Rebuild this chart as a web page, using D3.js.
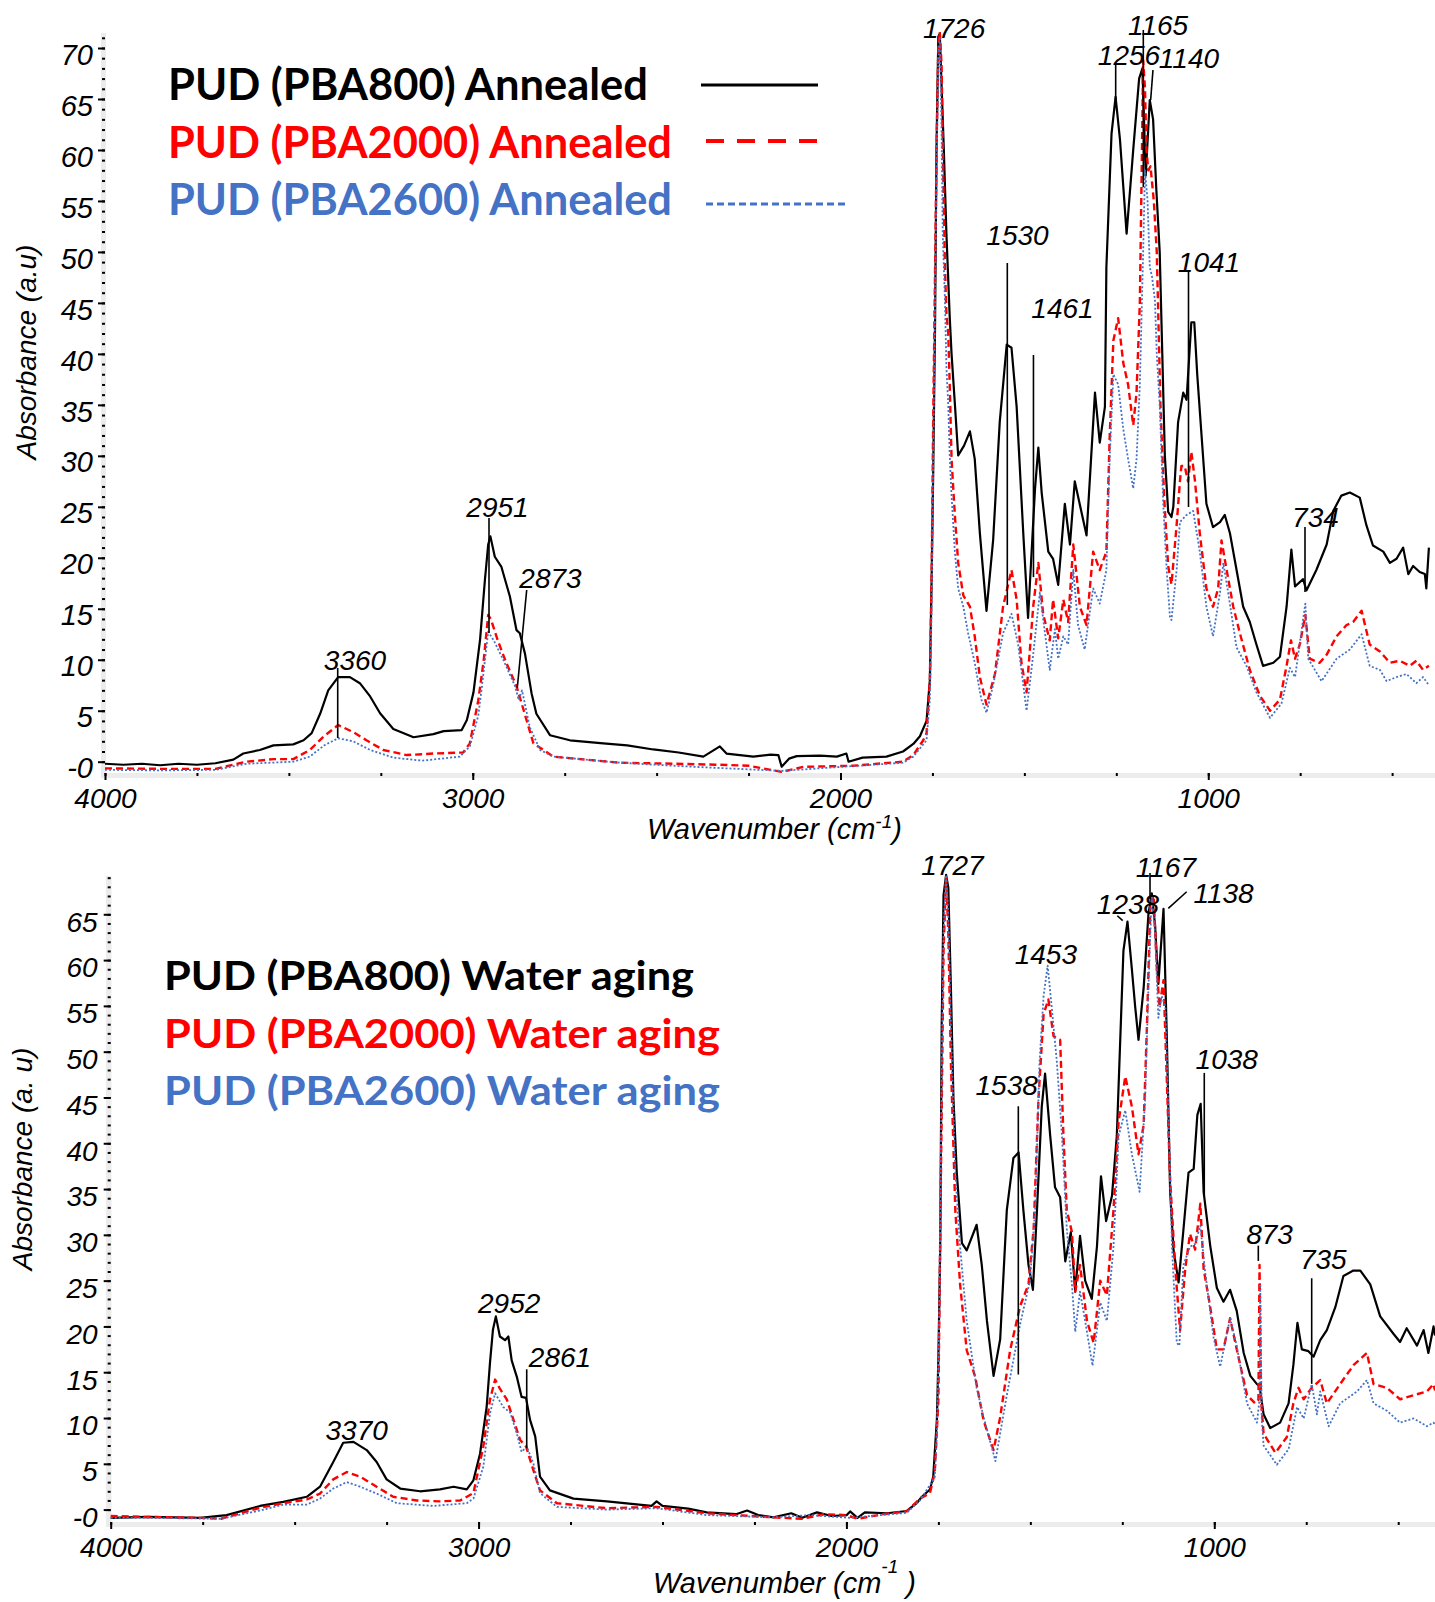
<!DOCTYPE html>
<html><head><meta charset="utf-8">
<script src="https://cdn.jsdelivr.net/npm/d3@7"></script>
<style>
body{margin:0;background:#fff;}
svg{display:block;}
</style></head><body>
<svg id="chart" width="1435" height="1602"></svg>
<script>
// ---------------- DATA ----------------
const majorWavenumbers = [4000, 3000, 2000, 1000];
const minorWavenumbers = d3.range(4000, 390, -250);
const absTicksTop = [0,5,10,15,20,25,30,35,40,45,50,55,60,65,70];
const absTicksBottom = [0,5,10,15,20,25,30,35,40,45,50,55,60,65];

const legendTop = ["PUD (PBA800) Annealed", "PUD (PBA2000) Annealed", "PUD (PBA2600) Annealed"];
const legendBottom = ["PUD (PBA800) Water aging", "PUD (PBA2000) Water aging", "PUD (PBA2600) Water aging"];

// [wavenumber cm-1, absorbance]
const topBlack = [[4000,-0.2],[3950,-0.3],[3900,-0.2],[3850,-0.35],[3800,-0.2],[3750,-0.3],[3700,-0.15],[3651,0.2],[3624,0.8],[3579,1.15],[3542,1.6],[3488,1.7],[3460,2.1],[3438,2.8],[3415,4.7],[3393,7.0],[3366,8.3],[3334,8.3],[3307,7.7],[3279,6.4],[3252,4.75],[3216,3.2],[3161,2.4],[3107,2.7],[3079,3.0],[3030,3.1],[3016,4.1],[2998,6.8],[2980,12.0],[2967,17.8],[2958,21.3],[2952,22.1],[2940,20.1],[2922,19.1],[2899,16.2],[2881,12.9],[2872,12.6],[2858,10.6],[2840,6.7],[2827,4.7],[2790,2.6],[2736,2.1],[2645,1.8],[2580,1.6],[2509,1.2],[2440,0.9],[2373,0.5],[2328,1.5],[2310,0.8],[2237,0.5],[2190,0.7],[2169,0.65],[2160,-0.5],[2140,0.3],[2119,0.55],[2056,0.6],[2010,0.5],[1984,0.8],[1978,0],[1940,0.4],[1875,0.5],[1830,1.0],[1802,1.74],[1784,2.5],[1766,4.0],[1757,8],[1752,18.4],[1748,28.2],[1743,42.4],[1739,60],[1734,71.1],[1730,71.4],[1725,66.2],[1719,60],[1712,51.8],[1703,43.6],[1698,40],[1689,35.1],[1680,30.05],[1664,31],[1648,32.4],[1635,29.7],[1621,22.4],[1603,14.8],[1585,21.7],[1567,33.3],[1548,40.9],[1535,40.6],[1521,34.8],[1503,22.4],[1490,14.1],[1471,26.8],[1462,30.8],[1453,26.4],[1435,20.6],[1422,19.9],[1408,17.35],[1390,25.3],[1376,21.3],[1363,27.5],[1331,22.2],[1308,36.2],[1295,31.3],[1281,34.8],[1277,48.5],[1263,61.6],[1252,65.2],[1240,61],[1231,56.4],[1222,51.8],[1204,60],[1188,67],[1179,68],[1170,57.5],[1159,64.9],[1150,63],[1141,56],[1132,50],[1125,40],[1118,30],[1109,24.5],[1100,24],[1095,25],[1082,33.3],[1068,36.2],[1059,35.5],[1046,43.1],[1038,43.1],[1030,38],[1018,31.9],[1005,25.3],[987,23],[968,23.5],[955,24.2],[941,22.4],[923,18.8],[905,15.2],[887,13.7],[869,11.5],[851,9.4],[823,9.7],[805,10.3],[787,15.2],[774,20.8],[764,17.2],[742,17.9],[733,16.8],[706,18.8],[678,21.3],[660,24.6],[638,26.1],[615,26.4],[588,25.9],[570,23.2],[552,21.2],[524,20.6],[506,19.5],[488,19.9],[470,21],[456,18.4],[443,19.2],[425,18.6],[411,18.4],[407,17],[400,21]];

const topRed = [[4000,-0.65],[3850,-0.7],[3700,-0.7],[3615,0],[3542,0.25],[3488,0.25],[3443,1.15],[3406,2.45],[3366,3.6],[3325,2.9],[3289,2.1],[3243,1.15],[3180,0.65],[3107,0.8],[3026,0.9],[3008,1.8],[2985,6.0],[2970,10],[2958,14.4],[2950,13.9],[2932,11.9],[2910,9.8],[2881,7.4],[2862,5.1],[2835,1.8],[2781,0.5],[2600,-0.1],[2450,-0.2],[2328,-0.3],[2250,-0.4],[2160,-1.0],[2100,-0.5],[1966,-0.4],[1830,0],[1802,0.65],[1775,2.1],[1766,2.8],[1757,7.9],[1752,18.8],[1748,33.3],[1743,47.8],[1738,62],[1734,70],[1730,71.6],[1725,68.2],[1721,58.4],[1716,48.5],[1712,44],[1707,42],[1703,37],[1698,29.7],[1694,27.2],[1689,24.2],[1680,19.5],[1666,16.3],[1648,15.2],[1635,12.3],[1621,8.3],[1603,5.6],[1580,8.6],[1558,15.2],[1535,18.8],[1521,15.9],[1508,9.7],[1494,6.8],[1476,15.2],[1462,19.5],[1449,14.5],[1431,11.9],[1422,15.9],[1408,12.1],[1394,15.9],[1381,13.7],[1367,21.3],[1349,15.2],[1331,13.4],[1313,20.6],[1295,18.8],[1277,20.6],[1268,31.9],[1258,41.3],[1245,43.5],[1231,39.1],[1218,37],[1204,33],[1195,36.2],[1186,45],[1181,58],[1177,68.8],[1172,66],[1168,60],[1163,58],[1157,58.4],[1148,55],[1140,50],[1130,35],[1120,26],[1109,19.2],[1100,17.4],[1086,23.2],[1077,27.5],[1073,29],[1064,29],[1055,27.5],[1046,30.4],[1036,27.5],[1023,22.4],[1005,17],[987,15.2],[973,17],[964,21.7],[950,18.8],[932,15.2],[914,12.6],[887,9],[860,6.5],[832,5],[805,6.1],[787,9.4],[775,11.9],[764,10.1],[751,11.5],[736,14.4],[724,10.1],[697,9.7],[678,10.5],[651,12.3],[624,13.4],[606,13.7],[583,14.8],[561,11.5],[533,10.8],[506,9.7],[479,9.9],[452,9.4],[434,9.9],[416,9],[400,9.4]];

const topBlue = [[4000,-0.8],[3850,-0.85],[3700,-0.8],[3615,-0.2],[3488,0],[3443,0.5],[3404,1.6],[3366,2.3],[3325,2.0],[3279,1.15],[3216,0.4],[3137,0.1],[3035,0.5],[3008,1.5],[2985,4.5],[2975,7.4],[2958,12.75],[2943,11.9],[2917,10.0],[2885,7.4],[2875,6.05],[2866,7.0],[2845,3.4],[2817,1.15],[2781,0.5],[2600,-0.1],[2400,-0.5],[2160,-0.9],[1830,-0.1],[1802,0.5],[1766,2.1],[1757,6.1],[1752,15.2],[1748,29.7],[1743,44.2],[1738,60],[1734,69],[1730,71.1],[1725,61.6],[1722,51.8],[1716,45.3],[1712,38.7],[1707,35],[1703,30],[1698,26.1],[1689,20.6],[1680,17],[1666,15.2],[1653,12.6],[1635,9.7],[1617,6.1],[1603,4.8],[1585,7.5],[1558,12.6],[1535,14.5],[1517,11.5],[1494,5],[1476,10.5],[1458,16.6],[1444,12.6],[1431,9],[1417,13],[1408,10.1],[1394,12.3],[1381,11.5],[1367,18.8],[1354,13.4],[1336,11],[1313,17],[1295,15.5],[1277,18.8],[1268,29.7],[1258,38],[1245,37],[1231,32.6],[1218,29.7],[1204,26.8],[1195,29.7],[1186,37],[1177,50],[1172,58],[1165,55],[1159,48.5],[1153,47.6],[1145,45.3],[1140,40],[1132,35],[1122,25],[1113,18.8],[1104,14.1],[1100,13.9],[1086,18.8],[1077,23.5],[1059,24.2],[1041,24.6],[1023,20.6],[1005,15.2],[987,12.3],[968,16.6],[959,19.5],[946,16.6],[923,11.2],[896,9.4],[869,6.8],[832,4.3],[801,5.7],[778,9.2],[764,8.3],[736,15.5],[728,10.1],[692,7.9],[651,10.1],[615,11],[583,12.5],[561,9.4],[533,9],[515,7.9],[488,8.3],[461,8.6],[434,7.7],[416,8.3],[400,7.5]];

const bottomBlack = [[4000,-0.9],[3900,-0.8],[3757,-0.9],[3685,-0.6],[3594,0.4],[3531,0.85],[3467,1.4],[3431,2.5],[3395,5.2],[3368,7.3],[3340,7.4],[3304,6.5],[3277,5.2],[3250,3.3],[3213,2.3],[3159,2.0],[3105,2.2],[3068,2.5],[3032,2.2],[3014,3.2],[2996,6.1],[2978,11.2],[2969,16],[2961,19.6],[2953,21.1],[2942,18.9],[2928,18.5],[2919,18.9],[2910,16.3],[2896,14.5],[2883,12.3],[2871,12.2],[2860,9.8],[2846,8.0],[2833,3.6],[2806,2.1],[2742,1.2],[2651,0.9],[2530,0.4],[2516,0.9],[2500,0.4],[2430,0.1],[2380,-0.3],[2300,-0.5],[2270,-0.1],[2240,-0.6],[2198,-0.85],[2150,-0.4],[2120,-0.9],[2080,-0.3],[2040,-0.7],[1999,-0.6],[1990,-0.2],[1970,-0.9],[1950,-0.3],[1890,-0.4],[1836,-0.15],[1809,0.7],[1795,1.4],[1773,2.2],[1764,3.6],[1754,9.9],[1750,16.6],[1745,28.7],[1741,52.9],[1736,67.1],[1729,69.3],[1723,67.9],[1716,57],[1709,44.8],[1700,36.8],[1686,29.1],[1673,28.3],[1646,31.1],[1632,26.7],[1618,20.6],[1600,14.6],[1582,18.6],[1564,32.7],[1546,38.4],[1532,39],[1519,32.7],[1505,26.7],[1493,24],[1482,32.7],[1469,44],[1460,47.6],[1446,40.8],[1433,35.2],[1419,34.1],[1405,27.1],[1390,30.3],[1378,23.8],[1365,29.9],[1351,25],[1333,23],[1319,28.7],[1308,36.4],[1294,31.5],[1278,34.3],[1265,40.8],[1256,50.9],[1247,61],[1236,64.2],[1224,59],[1215,54.9],[1206,51.3],[1192,57],[1179,65],[1170,67.3],[1161,63.8],[1152,57.4],[1138,65.6],[1129,51.5],[1120,34.7],[1111,28.4],[1097,24.8],[1084,30.5],[1070,36.8],[1056,37.2],[1046,43.1],[1037,44.3],[1029,34.7],[1011,28.8],[993,24.2],[975,22.7],[957,24],[939,21.7],[920,17.1],[902,14.6],[884,13.7],[877,13.5],[866,10.4],[848,8.9],[821,9.5],[798,11.6],[785,15.8],[774,20.4],[762,17.5],[744,17.3],[730,16.7],[712,18.5],[694,19.6],[671,22.1],[649,25.5],[622,26.1],[603,26.1],[576,24.6],[549,21.1],[513,19.2],[495,18.3],[477,19.8],[449,17.9],[431,19.6],[418,17.1],[404,20],[400,19]];

const bottomRed = [[4000,-0.7],[3900,-0.8],[3757,-0.9],[3700,-1.0],[3594,0.2],[3531,0.7],[3467,1.1],[3431,1.75],[3395,3.3],[3358,4.1],[3322,3.6],[3277,2.5],[3232,1.4],[3168,1.0],[3105,0.9],[3050,1.0],[3014,1.8],[2987,6.9],[2969,12],[2955,14.2],[2942,13.2],[2923,12],[2905,9.8],[2887,7.6],[2871,6.9],[2851,4.3],[2833,2.1],[2787,0.7],[2651,0.15],[2516,0.3],[2380,-0.4],[2300,-0.6],[2198,-0.85],[2120,-1.0],[2060,-0.5],[2000,-0.6],[1970,-1.0],[1900,-0.5],[1836,-0.2],[1800,1.2],[1773,1.8],[1760,4],[1754,8.7],[1750,12],[1743,36.8],[1736,61],[1729,69.1],[1723,63],[1716,48.9],[1704,32.7],[1691,24.6],[1673,17.4],[1650,14.5],[1627,9.7],[1600,6.5],[1582,10.1],[1555,17.4],[1528,22.2],[1505,24.6],[1491,30.7],[1478,44.8],[1464,54.1],[1451,55.7],[1437,51.7],[1419,51.3],[1410,40.8],[1401,32.7],[1387,30.3],[1378,23.8],[1365,26.7],[1346,20.6],[1328,18.2],[1310,25],[1292,23.4],[1274,32.7],[1260,42.4],[1242,47.3],[1224,44],[1206,38.8],[1192,42],[1183,52.9],[1174,65.8],[1165,67.1],[1156,59],[1149,54.9],[1138,57.8],[1129,46.9],[1120,36],[1106,26.3],[1093,19.6],[1079,26.3],[1066,30.1],[1052,28.4],[1038,33.4],[1029,26.3],[1011,22.1],[993,17.5],[975,17.5],[957,20.9],[939,17.5],[911,12.5],[889,11.6],[880,12],[877,26.7],[873,12],[866,8.3],[834,6.2],[803,7.9],[785,11.6],[771,13.3],[757,12.05],[735,13.3],[712,14.15],[694,11.6],[658,13.7],[621,15.8],[585,17.1],[567,13.7],[531,13.3],[495,12.05],[458,12.5],[422,12.9],[404,13.7],[400,13]];

const bottomBlue = [[4000,-0.9],[3900,-0.9],[3700,-1.0],[3594,-0.1],[3531,0.55],[3467,0.55],[3431,1.2],[3395,2.3],[3358,3.0],[3322,2.5],[3277,1.75],[3222,0.7],[3123,0.4],[3032,0.7],[3014,1.2],[2987,4.7],[2969,10.5],[2955,12.7],[2933,11.2],[2914,10.6],[2896,8.3],[2883,6.3],[2869,6.9],[2851,5.05],[2833,1.8],[2787,0.3],[2651,0],[2516,0.15],[2380,-0.6],[2198,-0.85],[2100,-0.6],[1990,-0.9],[1836,-0.35],[1800,1.0],[1760,3.5],[1754,8.3],[1748,20],[1743,40],[1736,63],[1729,69.3],[1723,65],[1716,52.9],[1704,36.8],[1691,28.7],[1673,20.6],[1646,13.3],[1627,10.1],[1595,5.3],[1564,12.5],[1528,20.2],[1501,25],[1487,32.7],[1475,48.9],[1464,56.1],[1453,59.4],[1442,54.9],[1428,48.9],[1414,40.8],[1401,30.7],[1387,24.6],[1378,19.4],[1365,23.8],[1351,20.6],[1331,15.7],[1310,22.6],[1292,20.6],[1274,28.7],[1260,40.8],[1242,43.6],[1224,38.8],[1203,34.7],[1188,44.8],[1179,57],[1170,67.1],[1161,63],[1152,53.7],[1143,56.1],[1133,54.9],[1124,42.8],[1115,28.7],[1102,18.2],[1095,17.9],[1084,26.7],[1066,28.7],[1052,29],[1038,31],[1025,26],[1002,18.8],[984,15.6],[957,20.9],[939,17.9],[911,11.6],[884,9.5],[877,12],[875,24.6],[871,10],[866,7],[830,4.9],[798,6.6],[775,11.2],[757,9.95],[735,13.7],[721,10.4],[712,12.9],[689,9.1],[658,11.6],[612,12.9],[585,14.15],[567,11.6],[531,10.8],[495,9.5],[458,9.95],[422,9.1],[404,9.5],[400,9.3]];

// Peak annotations: label text, label centre (wavenumber, absorbance of baseline), leader line in data units
const peaksTop = [
  {t:"1726", lw:1691, la:70.98},
  {t:"1165", lw:1136.6, la:71.27, x1:1176.6, y1:71.77, x2:1176.6, y2:56.36},
  {t:"1256", lw:1215.5, la:68.33, x1:1251.7, y1:68.33, x2:1251.7, y2:64.9},
  {t:"1140", lw:1052.4, la:68.04, x1:1150.3, y1:67.84, x2:1156.6, y2:64.9},
  {t:"1530", lw:1518.7, la:50.68, x1:1546.4, y1:48.91, x2:1546.4, y2:15.37},
  {t:"1461", lw:1396.4, la:43.52, x1:1475.3, y1:39.89, x2:1475.3, y2:18.11},
  {t:"1041", lw:997.9, la:48.03, x1:1053.7, y1:48.03, x2:1053.7, y2:24.98},
  {t:"734", lw:708.4, la:23.02, x1:736.9, y1:23.02, x2:736.9, y2:16.64},
  {t:"2951", lw:2932.7, la:24.0, x1:2955.8, y1:23.9, x2:2955.8, y2:12.62},
  {t:"2873", lw:2788.6, la:17.04, x1:2853.3, y1:16.84, x2:2878.9, y2:7.23},
  {t:"3360", lw:3320.2, la:8.99, x1:3367.2, y1:9.19, x2:3367.2, y2:2.32}
];
const peaksBottom = [
  {t:"1727", lw:1711.6, la:69.3},
  {t:"1167", lw:1131.5, la:69.08, x1:1174.7, y1:69.51, x2:1174.7, y2:66.67},
  {t:"1238", lw:1234.5, la:65.04, x1:1263.6, y1:64.84, x2:1248.9, y2:64.3},
  {t:"1138", lw:974.9, la:66.24, x1:1075, y1:67.46, x2:1125, y2:65.65},
  {t:"1453", lw:1457.9, la:59.58},
  {t:"1538", lw:1564.3, la:45.27, x1:1532.7, y1:44.03, x2:1532.7, y2:14.74},
  {t:"1038", lw:966.2, la:48.11, x1:1027.2, y1:47.68, x2:1027.2, y2:34.26},
  {t:"873", lw:849.9, la:29.02, x1:880.3, y1:28.82, x2:880.3, y2:27.15},
  {t:"735", lw:703.6, la:26.3, x1:735.2, y1:25.26, x2:735.2, y2:13.73},
  {t:"2952", lw:2916.7, la:21.43},
  {t:"2861", lw:2778.6, la:15.54, x1:2869.1, y1:15.32, x2:2869.1, y2:6.69},
  {t:"3370", lw:3331.3, la:7.6}
];

// ---------------- STYLE / LAYOUT ----------------
const colors = ["#000000", "#ff0000", "#4472c4"];
const strokeW = [2.2, 2.4, 1.8];
const dashes = [null, "7,4", "2,2"];
const tickFont = '"Liberation Sans", Arial, sans-serif';
const legendFont = 'Lato, "Open Sans", sans-serif';

const svg = d3.select("#chart");

function drawPanel(p) {
  const x = d3.scaleLinear().domain(p.xDomain).range(p.xRange);
  const y = d3.scaleLinear().domain(p.yDomain).range(p.yRange);
  const g = svg.append("g");

  // light gray axis bands
  g.append("rect").attr("x", p.yBand[0]).attr("y", p.yTop)
    .attr("width", p.yBand[1] - p.yBand[0]).attr("height", p.xBand[1] - p.yTop).attr("fill", "#ececec");
  g.append("rect").attr("x", p.yBand[0]).attr("y", p.xBand[0])
    .attr("width", 1435 - p.yBand[0]).attr("height", p.xBand[1] - p.xBand[0]).attr("fill", "#ececec");

  // y axis minor ticks
  g.append("g").attr("transform", `translate(${p.yTickX},0)`)
    .call(d3.axisLeft(y).tickValues(d3.range(0, p.yMinorMax + 1, 1)).tickSize(3).tickFormat(""))
    .call(a => a.select(".domain").remove())
    .selectAll("line").attr("stroke", "#000").attr("stroke-width", 2);
  // y axis major ticks + labels
  const ya = g.append("g").attr("transform", `translate(${p.yTickX},0)`)
    .call(d3.axisLeft(y).tickValues(p.yTicks).tickSize(7).tickPadding(p.yPad)
      .tickFormat(d => d === 0 ? "-0" : d));
  ya.select(".domain").remove();
  ya.selectAll("line").attr("stroke", "#000").attr("stroke-width", 2);
  ya.selectAll("text").attr("font-family", tickFont).attr("font-style", "italic")
    .attr("font-size", p.tickFs).attr("fill", "#000").attr("dy", "0.35em").attr("y", p.yLabelShift);

  // x axis minor + major
  g.append("g").attr("transform", `translate(0,${p.xBand[0]})`)
    .call(d3.axisBottom(x).tickValues(minorWavenumbers).tickSize(3).tickFormat(""))
    .call(a => a.select(".domain").remove())
    .selectAll("line").attr("stroke", "#000").attr("stroke-width", 2);
  const xa = g.append("g").attr("transform", `translate(0,${p.xBand[0]})`)
    .call(d3.axisBottom(x).tickValues(majorWavenumbers).tickSize(7).tickFormat(d3.format("d")));
  xa.select(".domain").remove();
  xa.selectAll("line").attr("stroke", "#000").attr("stroke-width", 2);
  xa.selectAll("text").attr("font-family", tickFont).attr("font-style", "italic")
    .attr("font-size", 28).attr("fill", "#000").attr("dy", 0).attr("y", p.xLabelBase);

  // axis titles
  const xt = g.append("text").attr("x", p.xTitle[0]).attr("y", p.xTitle[1])
    .attr("font-family", tickFont).attr("font-style", "italic").attr("font-size", 29).attr("fill", "#000");
  xt.append("tspan").text("Wavenumber (cm");
  xt.append("tspan").attr("font-size", 19).attr("dy", p.supDy).text("-1");
  xt.append("tspan").attr("dy", -p.supDy).text(p.supGap + ")");

  g.append("text").attr("transform", `translate(${p.yTitle[0]},${p.yTitle[1]}) rotate(-90)`)
    .attr("text-anchor", "middle").attr("font-family", tickFont).attr("font-style", "italic")
    .attr("font-size", 28).attr("fill", "#000").text(p.yTitleText);

  // spectra
  const line = d3.line().x(d => x(d[0])).y(d => y(d[1]));
  p.series.forEach((s, i) => {
    g.append("path").datum(s).attr("d", line).attr("fill", "none")
      .attr("stroke", colors[i]).attr("stroke-width", strokeW[i])
      .attr("stroke-linejoin", "round")
      .attr("stroke-dasharray", dashes[i]);
  });

  // peak annotations
  p.peaks.forEach(pk => {
    if (pk.x1 !== undefined) {
      g.append("line").attr("x1", x(pk.x1)).attr("y1", y(pk.y1)).attr("x2", x(pk.x2)).attr("y2", y(pk.y2))
        .attr("stroke", "#000").attr("stroke-width", 1.6);
    }
    g.append("text").attr("x", x(pk.lw)).attr("y", y(pk.la)).attr("text-anchor", "middle")
      .attr("font-family", tickFont).attr("font-style", "italic").attr("font-size", 28)
      .attr("fill", "#000").text(pk.t);
  });

  // legend
  p.legend.forEach((txt, i) => {
    g.append("text").attr("x", p.legX).attr("y", p.legY[i])
      .attr("font-family", legendFont).attr("font-weight", "bold").attr("font-size", p.legFs)
      .attr("fill", colors[i]).attr("textLength", p.legW[i]).attr("lengthAdjust", "spacingAndGlyphs")
      .text(txt);
  });
  if (p.legSamples) {
    p.legSamples.forEach((ls, i) => {
      g.append("line").attr("x1", ls[0]).attr("x2", ls[1]).attr("y1", ls[2]).attr("y2", ls[2])
        .attr("stroke", colors[i]).attr("stroke-width", [3.2, 4, 3][i])
        .attr("stroke-dasharray", [null, "18,13", "7,4"][i]);
    });
  }
}

drawPanel({
  xDomain: [4000, 397], xRange: [105, 1430],
  yDomain: [0, 70], yRange: [761.7, 48],
  yTicks: absTicksTop, yMinorMax: 71, yTickX: 105, yPad: 5, yLabelShift: 6, tickFs: 29,
  yBand: [101, 106], yTop: 33, xBand: [773, 778], xLabelBase: 35,
  xTitle: [647, 839], supDy: -11, supGap: "",
  yTitle: [36, 352], yTitleText: "Absorbance (a.u)",
  series: [topBlack, topRed, topBlue], peaks: peaksTop,
  legend: legendTop, legX: 168, legY: [100, 158, 215], legFs: 44, legW: [480, 504, 504],
  legSamples: [[701, 818, 85], [706, 825, 141], [706, 845, 204]]
});

drawPanel({
  xDomain: [4000, 400], xRange: [110.7, 1435],
  yDomain: [0, 65], yRange: [1509.6, 914.3],
  yTicks: absTicksBottom, yMinorMax: 69, yTickX: 110.7, yPad: 6, yLabelShift: 7, tickFs: 28,
  yBand: [106, 111.5], yTop: 876, xBand: [1522, 1527], xLabelBase: 35,
  xTitle: [653, 1593], supDy: -20, supGap: " ",
  yTitle: [32, 1159], yTitleText: "Absorbance (a. u)",
  series: [bottomBlack, bottomRed, bottomBlue], peaks: peaksBottom,
  legend: legendBottom, legX: 164, legY: [990, 1048, 1105], legFs: 40, legW: [530, 556, 556],
  legSamples: null
});
</script>
</body></html>
